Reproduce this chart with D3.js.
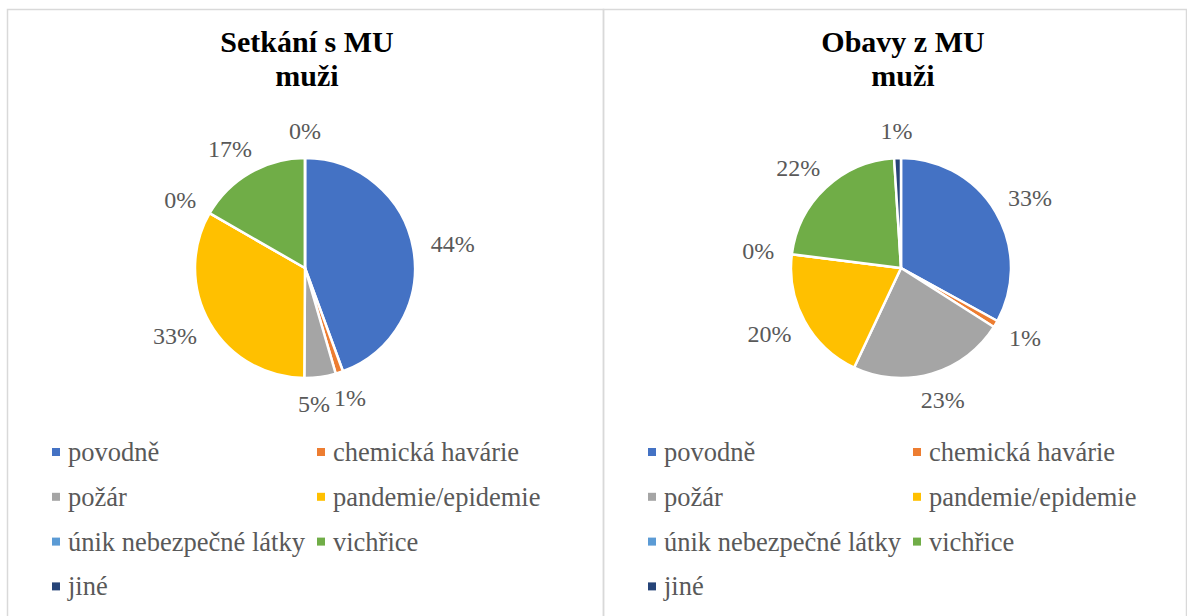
<!DOCTYPE html>
<html>
<head>
    <meta charset="utf-8">
    <script src="https://cdnjs.cloudflare.com/ajax/libs/d3/7.8.5/d3.min.js"></script>
</head>
<body style="margin:0">
    <div id="chart"></div>
    <script>
        const width = 1187, height = 616;
        const font = "Liberation Serif";

        const categories = ["povodně", "chemická havárie", "požár", "pandemie/epidemie", "únik nebezpečné látky", "vichřice", "jiné"];
        const colors = ["#4472C4", "#ED7D31", "#A5A5A5", "#FFC000", "#5B9BD5", "#70AD47", "#264478"];

        // shares in percent
        const setkaniMuzi = [44.4, 1.1, 4.6, 33.2, 0, 16.7, 0];
        const obavyMuzi = [33, 1, 23, 20, 0, 22, 1];

        const panels = [
            { title: ["Setkání s MU", "muži"], values: setkaniMuzi, x0: 7, x1: 603 },
            { title: ["Obavy z MU", "muži"], values: obavyMuzi, x0: 603, x1: 1186 }
        ];

        const svg = d3.select("#chart").append("svg")
            .attr("width", width).attr("height", height)
            .style("font-family", font);

        const radius = 110;
        const pie = d3.pie().sort(null).value(d => d);
        const arc = d3.arc().innerRadius(0).outerRadius(radius);

        panels.forEach(p => {
            const g = svg.append("g");
            // panel border
            g.append("rect")
                .attr("x", p.x0 + 0.5).attr("y", 9.5)
                .attr("width", p.x1 - p.x0).attr("height", height + 20)
                .attr("fill", "none").attr("stroke", "#d9d9d9").attr("stroke-width", 1.5);

            const cx = p.x0 + 298, cy = 268;

            g.append("text")
                .attr("font-family", font).attr("font-weight", "bold").attr("font-size", 30)
                .attr("fill", "#000")
                .attr("text-anchor", "middle")
                .selectAll("tspan").data(p.title).enter().append("tspan")
                .attr("x", cx + 2).attr("y", (d, i) => 52 + i * 34)
                .text(d => d);

            const arcs = pie(p.values);
            const pg = g.append("g").attr("transform", `translate(${cx},${cy})`);
            pg.selectAll("path").data(arcs).enter().append("path")
                .attr("d", arc)
                .attr("fill", (d, i) => colors[i])
                .attr("stroke", "#fff").attr("stroke-width", 2.5).attr("stroke-linejoin", "round");

            // outside-end labels
            const labels = pg.selectAll("text").data(arcs).enter().append("text")
                .attr("font-family", font).attr("font-size", 24).attr("fill", "#595959")
                .attr("text-anchor", "middle")
                .attr("dominant-baseline", "central")
                .text(d => Math.round(d.data) + "%");

            const boxes = [];
            labels.each(function (d) {
                const a = (d.startAngle + d.endAngle) / 2;
                const s = Math.sin(a), c = -Math.cos(a);
                const r = radius + 18;
                const w = this.getComputedTextLength(), h = 18;
                boxes.push({ node: this, x: s * r + s * w / 2, y: c * r + c * h / 2, w: w, h: h });
            });
            // push apart labels that collide
            for (let i = 1; i < boxes.length; i++) {
                const a = boxes[i - 1], b = boxes[i];
                const ox = (a.w + b.w) / 2 - Math.abs(a.x - b.x);
                const oy = (a.h + b.h) / 2 - Math.abs(a.y - b.y);
                if (ox > 0 && oy > 0) {
                    b.x += (b.x >= a.x ? 1 : -1) * (ox + 4);
                }
            }
            boxes.forEach(b => d3.select(b.node).attr("x", b.x).attr("y", b.y));

            // legend, two columns
            const items = g.append("g").selectAll("g").data(categories).enter().append("g")
                .attr("transform", (d, i) => `translate(${p.x0 + 45 + (i % 2) * 265},${452 + Math.floor(i / 2) * 44.8})`);
            items.append("rect")
                .attr("x", 0).attr("y", -4).attr("width", 8).attr("height", 8)
                .attr("fill", (d, i) => colors[i]);
            items.append("text")
                .attr("font-family", font).attr("font-size", 26.5).attr("fill", "#595959")
                .attr("x", 16).attr("y", 9)
                .text(d => d);
        });
    </script>
</body>
</html>
